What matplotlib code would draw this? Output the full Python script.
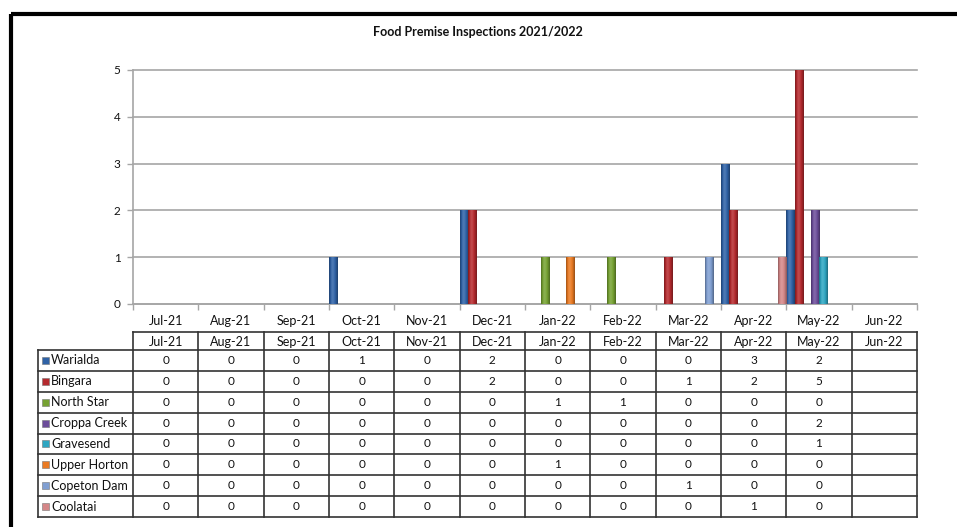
import numpy as np
import matplotlib
matplotlib.use("Agg")
import matplotlib.pyplot as plt
from matplotlib.patches import Rectangle
from matplotlib.lines import Line2D
from matplotlib.colors import to_rgb

nan = np.nan
months = ["Jul-21", "Aug-21", "Sep-21", "Oct-21", "Nov-21", "Dec-21",
          "Jan-22", "Feb-22", "Mar-22", "Apr-22", "May-22", "Jun-22"]
series = ["Warialda", "Bingara", "North Star", "Croppa Creek", "Gravesend",
          "Upper Horton", "Copeton Dam", "Coolatai"]
warialda     = [0, 0, 0, 1, 0, 2, 0, 0, 0, 3, 2, nan]
bingara      = [0, 0, 0, 0, 0, 2, 0, 0, 1, 2, 5, nan]
north_star   = [0, 0, 0, 0, 0, 0, 1, 1, 0, 0, 0, nan]
croppa_creek = [0, 0, 0, 0, 0, 0, 0, 0, 0, 0, 2, nan]
gravesend    = [0, 0, 0, 0, 0, 0, 0, 0, 0, 0, 1, nan]
upper_horton = [0, 0, 0, 0, 0, 0, 1, 0, 0, 0, 0, nan]
copeton_dam  = [0, 0, 0, 0, 0, 0, 0, 0, 1, 0, 0, nan]
coolatai     = [0, 0, 0, 0, 0, 0, 0, 0, 0, 1, 0, nan]
values = [warialda, bingara, north_star, croppa_creek, gravesend,
          upper_horton, copeton_dam, coolatai]
colors = ["#2F62A6", "#B52A2E", "#76A232", "#6C4D9A", "#2EA6C2",
          "#EA7A22", "#809FD2", "#D58788"]
title = "Food Premise Inspections 2021/2022"

FONT = ["Lato", "DejaVu Sans"]
plt.rcParams["font.family"] = FONT
TXT = "#111111"

W, H = 957, 527
fig = plt.figure(figsize=(W / 100, H / 100), dpi=100)

def rect(l, t, r, b):
    return [l / W, 1 - b / H, (r - l) / W, (b - t) / H]

def shade(c, f):
    rgb = np.array(to_rgb(c))
    if f >= 0:
        return rgb + (1 - rgb) * f
    return rgb * (1 + f)

# outer border (left and top visible)
fig.add_artist(Line2D([11 / W, 11 / W], [0, 1 - 14 / H], transform=fig.transFigure,
                      color="black", lw=3, solid_capstyle="butt"))
fig.add_artist(Line2D([11 / W, 1.0], [1 - 14 / H, 1 - 14 / H], transform=fig.transFigure,
                      color="black", lw=3, solid_capstyle="butt"))

fig.text(478 / W, 1 - 32 / H, title, ha="center", va="center",
         fontsize=9, fontweight="bold", color=TXT)

# main chart
PL, PR, PT, PB = 133, 917, 70, 304
ax = fig.add_axes(rect(PL, PT, PR, PB))
n = len(months)
ns = len(series)
bw = 1.0 / ns
x = np.arange(n)
prof = np.array([-0.25, -0.05, 0.12, 0.15, 0.08, -0.02, -0.15, -0.3])
for s in range(ns):
    bars = ax.bar(x + s * bw, values[s], width=bw, align="edge", color=colors[s],
                  edgecolor=shade(colors[s], -0.3), linewidth=0.4, zorder=3)
    grad = np.array([[shade(colors[s], f) for f in prof]])
    for b in bars:
        h = b.get_height()
        if np.isnan(h) or h <= 0:
            continue
        im = ax.imshow(grad, extent=[b.get_x(), b.get_x() + b.get_width(), 0, h],
                       aspect="auto", interpolation="bilinear", zorder=3.5)
        im.set_clip_path(b)
ax.set_xlim(0, n)
ax.set_ylim(0, 5)
ax.set_yticks(range(6))
ax.grid(axis="y", color="#A6A6A6", lw=1.2, zorder=0)
ax.set_axisbelow(True)
for sp in ["top", "right"]:
    ax.spines[sp].set_visible(False)
for sp in ["left", "bottom"]:
    ax.spines[sp].set_color("#A6A6A6")
    ax.spines[sp].set_linewidth(1.2)
ax.set_xticks(np.arange(n + 1))
ax.set_xticklabels([])
ax.set_xticks(x + 0.5, minor=True)
ax.set_xticklabels(months, minor=True, fontsize=9, color=TXT)
ax.tick_params(axis="x", which="major", length=4, color="#A6A6A6", width=1)
ax.tick_params(axis="x", which="minor", length=0, pad=8)
ax.tick_params(axis="y", length=4, color="#A6A6A6", width=1, labelsize=8.5,
               labelcolor=TXT, pad=5)
for gl in ax.get_ygridlines():
    gl.set_clip_on(False)

# data table
TL, TT, TB = 38, 332, 517
colw = (PR - PL) / n
L = (PL - TL) / colw
hh = 18
rh = (TB - TT - hh) / ns
tax = fig.add_axes(rect(TL, TT, PR, TB))
tax.set_xlim(-L, n)
tax.set_ylim(TB - TT, 0)
tax.axis("off")
lc = "#333333"
lw = 1.2
tax.plot([0, n], [0, 0], color=lc, lw=lw, clip_on=False)
for k in range(ns + 1):
    y = hh + k * rh
    tax.plot([-L, n], [y, y], color=lc, lw=lw, clip_on=False)
tax.plot([-L, -L], [hh, TB - TT], color=lc, lw=lw, clip_on=False)
for c in range(n + 1):
    tax.plot([c, c], [0, TB - TT], color=lc, lw=lw, clip_on=False)
for c, m in enumerate(months):
    tax.text(c + 0.5, hh / 2 + 0.5, m, ha="center", va="center", fontsize=9, color=TXT)
for r in range(ns):
    yc = hh + (r + 0.5) * rh
    sw = 7
    tax.add_patch(Rectangle((-L + 4 / colw, yc - sw / 2), sw / colw, sw,
                            facecolor=colors[r], edgecolor="#777777", lw=0.4, clip_on=False))
    tax.text(-L + 13 / colw, yc, series[r], ha="left", va="center", fontsize=9, color=TXT)
    for c in range(n):
        v = values[r][c]
        txt = "" if np.isnan(v) else f"{int(v)}"
        tax.text(c + 0.5, yc, txt, ha="center", va="center", fontsize=8.5, color=TXT)

fig.savefig("out.png", dpi=100, facecolor="white")
